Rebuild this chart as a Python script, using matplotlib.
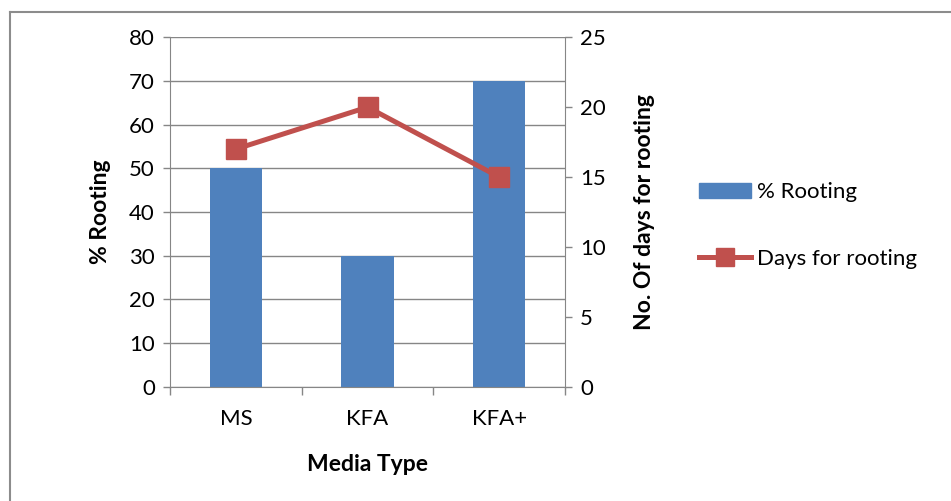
import matplotlib.pyplot as plt
from matplotlib.lines import Line2D
from matplotlib.patches import Patch
import numpy as np

plt.rcParams['font.family'] = ['Lato', 'DejaVu Sans']

media = ['MS', 'KFA', 'KFA+']
rooting_pct = [50, 30, 70]
days_rooting = [17, 20, 15]

bar_color = '#4F81BD'
line_color = '#C0504D'
grid_color = '#868686'

fig = plt.figure(figsize=(9.51, 5.01), dpi=100)
ax = fig.add_axes([0.1788, 0.2285, 0.4153, 0.697])
x = np.arange(len(media))

ax.bar(x, rooting_pct, width=0.4, color=bar_color, zorder=2)
ax.set_xlim(-0.5, 2.5)
ax.set_ylim(0, 80)
ax.set_yticks(range(0, 81, 10))
ax.yaxis.grid(True, color=grid_color, linewidth=1, zorder=0)
ax.set_xticks(x)
ax.set_xticklabels(media)
ax.set_xticks([-0.5, 0.5, 1.5, 2.5], minor=True)
ax.tick_params(axis='x', which='major', length=0, pad=16, labelsize=16)
ax.tick_params(axis='x', which='minor', length=6, color=grid_color, width=1)
ax.tick_params(axis='y', length=5, color=grid_color, width=1, labelsize=16, pad=6)
for side in ['top', 'right']:
    ax.spines[side].set_visible(False)
for side in ['left', 'bottom']:
    ax.spines[side].set_color(grid_color)
ax.set_ylabel('% Rooting', fontsize=16.5, fontweight='bold', labelpad=13)
ax.set_xlabel('Media Type', fontsize=16.5, fontweight='bold', labelpad=18)

# secondary axis for days
ax2 = ax.twinx()
ax2.plot(x, days_rooting, color=line_color, linewidth=3.6, marker='s',
         markersize=14, zorder=3)
ax2.set_ylim(0, 25)
ax2.set_yticks(range(0, 26, 5))
ax2.tick_params(axis='y', length=5, color=grid_color, width=1, labelsize=16, pad=6)
for side in ['top', 'left', 'bottom']:
    ax2.spines[side].set_visible(False)
ax2.spines['right'].set_color(grid_color)
ax2.set_ylabel('No. Of days for rooting', fontsize=16.5, fontweight='bold', labelpad=20)

handles = [Patch(color=bar_color, label='% Rooting'),
           Line2D([0], [0], color=line_color, linewidth=3.6, marker='s',
                  markersize=13, label='Days for rooting')]
fig.legend(handles=handles, loc='center left', bbox_to_anchor=(0.714, 0.55),
           frameon=False, fontsize=16, handlelength=2.35, labelspacing=2.1,
           handletextpad=0.27)

# outer chart border
fig.add_artist(Line2D([9.5 / 951, 9.5 / 951], [0, 1 - 11.7 / 501],
                      transform=fig.transFigure, color='#8c8c8c', linewidth=1.5))
fig.add_artist(Line2D([9.5 / 951, 1], [1 - 11.7 / 501, 1 - 11.7 / 501],
                      transform=fig.transFigure, color='#8c8c8c', linewidth=1.5))

fig.savefig('out.png', dpi=100)
